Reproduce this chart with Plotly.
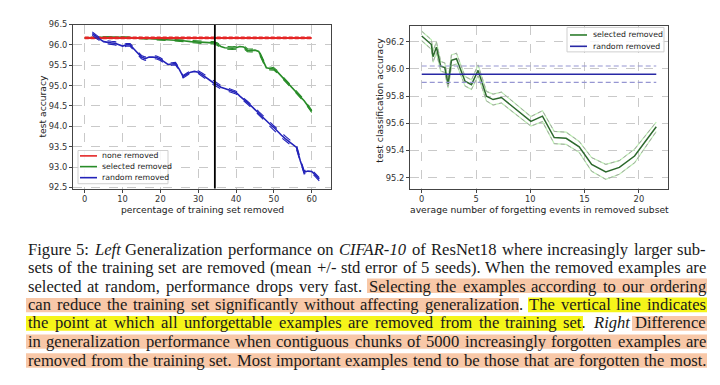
import plotly.graph_objects as go

# ---------------- data: left panel ----------------
none_x = [0, 2, 4, 6, 8, 10, 12, 14, 16, 18, 20, 22, 24, 26, 28, 30,
          32, 34, 36, 38, 40, 42, 44, 46, 48, 50, 52, 54, 56, 58, 60]
none_y = [96.17, 96.17, 96.17, 96.17, 96.17, 96.17, 96.17, 96.17, 96.17, 96.17,
          96.17, 96.17, 96.17, 96.17, 96.17, 96.17, 96.17, 96.17, 96.17, 96.17,
          96.17, 96.17, 96.17, 96.17, 96.17, 96.17, 96.17, 96.17, 96.17, 96.17, 96.17]
none_err = [0.012, 0.012, 0.012, 0.012, 0.012, 0.012, 0.012, 0.012, 0.012, 0.012,
            0.012, 0.012, 0.012, 0.012, 0.012, 0.012, 0.012, 0.012, 0.012, 0.012,
            0.012, 0.012, 0.012, 0.012, 0.012, 0.012, 0.012, 0.012, 0.012, 0.012, 0.012]

sel_x = [0, 2, 4, 6, 8, 10, 12, 14, 16, 18, 20, 22, 24, 26, 28, 30, 32, 34,
         35, 36, 37, 38, 39, 40, 41, 42, 43, 44, 45, 46, 47, 48, 49, 50,
         51, 52, 53, 54, 55, 56, 57, 58, 59, 60]
sel_y = [96.17, 96.18, 96.18, 96.19, 96.19, 96.19, 96.18, 96.17, 96.16, 96.15,
         96.14, 96.12, 96.11, 96.10, 96.08, 96.07, 96.06, 96.05,
         96.02, 95.96, 95.93, 95.92, 95.92, 95.93, 95.96, 95.95, 95.87, 95.86,
         95.87, 95.84, 95.62, 95.44, 95.42, 95.41, 95.33, 95.23, 95.13, 95.03,
         94.94, 94.84, 94.74, 94.63, 94.50, 94.37]
sel_err = [0.01, 0.01, 0.01, 0.01, 0.01, 0.01, 0.015, 0.015, 0.015, 0.02,
           0.02, 0.02, 0.02, 0.02, 0.025, 0.025, 0.025, 0.03,
           0.03, 0.035, 0.035, 0.035, 0.035, 0.035, 0.035, 0.035, 0.035, 0.035,
           0.035, 0.035, 0.04, 0.04, 0.035, 0.03, 0.03, 0.03, 0.03, 0.03,
           0.03, 0.03, 0.03, 0.03, 0.03, 0.03]

rnd_x = [2, 3, 4, 5, 6, 7, 8, 9, 10, 11, 12, 13, 14, 15, 16, 17, 18, 19, 20,
         21, 22, 23, 24, 25, 26, 27, 28, 29, 30, 31, 32, 33, 34, 35, 36, 37,
         38, 39, 40, 41, 42, 43, 44, 45, 46, 47, 48, 49, 50, 51, 52, 53, 54,
         55, 56, 57, 58, 59, 60, 61, 62]
rnd_y = [96.28, 96.20, 96.14, 96.08, 96.06, 96.05, 96.04, 96.00, 95.97, 96.00,
         96.00, 95.90, 95.80, 95.70, 95.66, 95.70, 95.70, 95.69, 95.65, 95.58,
         95.52, 95.53, 95.54, 95.40, 95.22, 95.28, 95.33, 95.35, 95.33, 95.27,
         95.20, 95.13, 95.07, 95.02, 94.96, 94.93, 94.90, 94.87, 94.83, 94.74,
         94.65, 94.58, 94.50, 94.42, 94.32, 94.23, 94.13, 94.05, 93.97, 93.87,
         93.78, 93.70, 93.63, 93.56, 93.48, 93.15, 92.87, 92.90, 92.89, 92.80,
         92.70]
rnd_err = [0.04, 0.04, 0.035, 0.035, 0.035, 0.04, 0.04, 0.04, 0.035, 0.035,
           0.035, 0.035, 0.035, 0.04, 0.04, 0.04, 0.035, 0.035, 0.035, 0.03,
           0.03, 0.03, 0.03, 0.03, 0.03, 0.03, 0.03, 0.03, 0.035, 0.04,
           0.045, 0.05, 0.05, 0.05, 0.045, 0.04, 0.04, 0.04, 0.035, 0.035,
           0.035, 0.035, 0.035, 0.04, 0.04, 0.04, 0.045, 0.05, 0.05, 0.055,
           0.06, 0.06, 0.06, 0.06, 0.05, 0.05, 0.04, 0.04, 0.04, 0.04,
           0.04]

vline_x = 34.4

# ---------------- data: right panel ----------------
fe_x = [0.0, 0.89, 1.04, 1.35, 1.75, 2.12, 2.43, 2.74, 3.2, 3.99, 4.58, 5.19,
        5.96, 6.57, 7.34, 10.05, 11.12, 12.2, 13.3, 14.5, 15.65, 16.95, 18.2,
        19.6, 21.6]
fe_y = [96.243, 96.18, 96.09, 96.16, 96.02, 96.01, 95.89, 96.064, 96.076,
        95.91, 95.885, 95.99, 95.80, 95.775, 95.79, 95.615, 95.653, 95.496,
        95.49, 95.427, 95.298, 95.243, 95.276, 95.36, 95.575]
fe_err = [0.035, 0.035, 0.04, 0.04, 0.035, 0.035, 0.03, 0.04, 0.04, 0.035,
          0.035, 0.04, 0.035, 0.04, 0.04, 0.035, 0.04, 0.045, 0.045, 0.04,
          0.05, 0.055, 0.05, 0.05, 0.035]
rand_level = 95.962
rand_err = 0.06
rand_x = [0.0, 21.6]

# ---------------- caption ----------------
caption_lines = [
    "Figure 5: <i>Left</i> Generalization performance on <i>CIFAR-10</i> of ResNet18 where increasingly larger sub-",
    "sets of the training set are removed (mean +/- std error of 5 seeds). When the removed examples are",
    "selected at random, performance drops very fast. Selecting the examples according to our ordering",
    "can reduce the training set significantly without affecting generalization. The vertical line indicates",
    "the point at which all unforgettable examples are removed from the training set. <i>Right</i> Difference",
    "in generalization performance when contiguous chunks of 5000 increasingly forgotten examples are",
    "removed from the training set. Most important examples tend to be those that are forgotten the most.",
]

W, H = 720, 385


def px(x):
    return x / W


def py(y):
    return 1 - y / H


# Times-compatible advance widths (per 1000 em) used to justify the caption
_REG = {" ": 250, "(": 333, ")": 333, "+": 564, ",": 250, "-": 333, ".": 250, "/": 278,
        ":": 278, ";": 278, "@": 921}
_REG.update({d: 500 for d in "0123456789"})
_REG.update(dict(zip("ABCDEFGHIJKLMNOPQRSTUVWXYZ",
                     [722, 667, 667, 722, 611, 556, 722, 722, 333, 389, 722, 611, 889,
                      722, 722, 556, 722, 667, 556, 611, 722, 722, 944, 722, 722, 611])))
_REG.update(dict(zip("abcdefghijklmnopqrstuvwxyz",
                     [444, 500, 444, 500, 444, 333, 500, 500, 278, 278, 500, 278, 778,
                      500, 500, 500, 500, 333, 389, 278, 500, 500, 722, 500, 500, 444])))
_ITA = dict(_REG)
_ITA.update({"L": 556, "A": 611, "F": 611, "R": 611, "C": 640, "I": 320,
             "f": 278, "a": 500, "r": 389, "-": 320})


def word_width(w):
    table = _ITA if "<i>" in w else _REG
    plain = w.replace("<i>", "").replace("</i>", "")
    return sum(table.get(c, 500) for c in plain) / 1000.0


RED = "rgb(228,38,38)"
GREEN = "rgb(40,140,40)"
BLUE = "rgb(35,35,185)"

fig = go.Figure()


def add_band(x, y, e, color, xa, ya, mean_w=1.6, dash_w=1.1, dash="dash"):
    up = [a + b for a, b in zip(y, e)]
    lo = [a - b for a, b in zip(y, e)]
    for yy in (up, lo):
        fig.add_trace(go.Scatter(x=x, y=yy, mode="lines", xaxis=xa, yaxis=ya,
                                 line=dict(color=color, width=dash_w, dash=dash),
                                 showlegend=False, hoverinfo="skip"))
    fig.add_trace(go.Scatter(x=x, y=y, mode="lines", xaxis=xa, yaxis=ya,
                             line=dict(color=color, width=mean_w),
                             showlegend=False))


# left panel
add_band(sel_x, sel_y, sel_err, GREEN, "x", "y")
add_band(none_x, none_y, none_err, RED, "x", "y", mean_w=2.0, dash_w=1.8, dash="4px,2px")
add_band(rnd_x, rnd_y, rnd_err, BLUE, "x", "y")
fig.add_trace(go.Scatter(x=[vline_x, vline_x], y=[92.0, 97.0], mode="lines",
                         line=dict(color="black", width=1.8), showlegend=False))

# right panel
fe_up = [a + b for a, b in zip(fe_y, fe_err)]
fe_lo = [a - b for a, b in zip(fe_y, fe_err)]
for yy in (fe_up, fe_lo):
    fig.add_trace(go.Scatter(x=fe_x, y=yy, mode="lines", xaxis="x2", yaxis="y2",
                             line=dict(color="rgb(190,240,180)", width=1.2),
                             showlegend=False, hoverinfo="skip"))
    fig.add_trace(go.Scatter(x=fe_x, y=yy, mode="lines", xaxis="x2", yaxis="y2",
                             line=dict(color="rgb(165,165,165)", width=1, dash="4px,3px"),
                             showlegend=False, hoverinfo="skip"))
fig.add_trace(go.Scatter(x=fe_x, y=fe_y, mode="lines", xaxis="x2", yaxis="y2",
                         line=dict(color="rgb(45,105,45)", width=1.5), showlegend=False))
for lvl in (rand_level + rand_err, rand_level - rand_err):
    fig.add_trace(go.Scatter(x=rand_x, y=[lvl, lvl], mode="lines", xaxis="x2", yaxis="y2",
                             line=dict(color="rgb(150,150,210)", width=1.2, dash="5px,3px"),
                             showlegend=False))
fig.add_trace(go.Scatter(x=rand_x, y=[rand_level, rand_level], mode="lines",
                         xaxis="x2", yaxis="y2",
                         line=dict(color="rgb(40,40,165)", width=1.5), showlegend=False))

tickfont = dict(family="DejaVu Sans", size=8.3, color="#333")
axis_common = dict(showline=True, mirror=True, linecolor="#444", linewidth=1,
                   ticks="outside", ticklen=3, tickcolor="#444", tickfont=tickfont,
                   showgrid=True, gridcolor="#c9c9c9", griddash="dash", gridwidth=0.8,
                   zeroline=False)

fig.update_layout(
    width=W, height=H, margin=dict(l=0, r=0, t=0, b=0),
    paper_bgcolor="white", plot_bgcolor="white", showlegend=False,
    xaxis=dict(domain=[px(73), px(331)], range=[-3.1, 65.1], tickvals=[0, 10, 20, 30, 40, 50, 60],
               anchor="y", ticklabelstandoff=-1, **axis_common),
    yaxis=dict(domain=[py(188), py(20)], range=[92.47, 96.5],
               tickvals=[92.5, 93.0, 93.5, 94.0, 94.5, 95.0, 95.5, 96.0, 96.5],
               tickformat=".1f", anchor="x", **axis_common),
    xaxis2=dict(domain=[px(410), px(668)], range=[-1.08, 22.68], tickvals=[0, 5, 10, 15, 20],
                anchor="y2", ticklabelstandoff=-1, **axis_common),
    yaxis2=dict(domain=[py(188), py(21)], range=[95.12, 96.32],
                tickvals=[95.2, 95.4, 95.6, 95.8, 96.0, 96.2], tickformat=".1f",
                anchor="x2", **axis_common),
)

shapes = []
annotations = []
title_font = dict(family="DejaVu Sans", size=9.2, color="#222")
for text, x, y, ang in [
        ("percentage of training set removed", 202, 209.5, 0),
        ("test accuracy", 43, 104, -90),
        ("average number of forgetting events in removed subset", 539, 209.5, 0),
        ("test classification accuracy", 380, 98, -90)]:
    annotations.append(dict(text=text, x=px(x), y=py(y), xref="paper", yref="paper",
                            xanchor="center", yanchor="middle", showarrow=False,
                            borderpad=0, textangle=ang, font=title_font))

# manual legends
leg_font = dict(family="DejaVu Sans", size=7.8, color="#222")


def legend_box(x0, y0, x1, y1, items, lx0, lx1, tx):
    shapes.append(dict(type="rect", xref="paper", yref="paper", x0=px(x0), x1=px(x1),
                       y0=py(y1), y1=py(y0), fillcolor="rgba(255,255,255,0.85)",
                       line=dict(color="#cfcfcf", width=1)))
    for label, color, yy in items:
        shapes.append(dict(type="line", xref="paper", yref="paper", x0=px(lx0), x1=px(lx1),
                           y0=py(yy), y1=py(yy), line=dict(color=color, width=1.6)))
        annotations.append(dict(text=label, x=px(tx), y=py(yy), xref="paper", yref="paper",
                                xanchor="left", yanchor="middle", showarrow=False,
                                borderpad=0, font=leg_font))


legend_box(78, 149, 168, 183,
           [("none removed", RED, 154.5), ("selected removed", GREEN, 165.5),
            ("random removed", BLUE, 176.8)], 80, 97, 101)
legend_box(567, 23, 664, 48,
           [("selected removed", "rgb(45,125,45)", 30.7), ("random removed", "rgb(40,40,165)", 42.3)],
           570, 587, 592)

# caption highlights
ORANGE = "rgb(248,200,168)"
YELLOW = "rgb(245,245,25)"
highlights = [
    (367, 707, 280, 295, ORANGE),
    (26, 519, 300, 314.5, ORANGE),
    (528, 707, 299.5, 314.5, YELLOW),
    (26, 583, 318.5, 333.5, YELLOW),
    (632, 707, 318.5, 333.5, ORANGE),
    (26, 707, 337.5, 352, ORANGE),
    (26, 707, 356.5, 371.5, ORANGE),
]
for x0, x1, y0, y1, c in highlights:
    shapes.append(dict(type="rect", xref="paper", yref="paper", x0=px(x0), x1=px(x1),
                       y0=py(y1), y1=py(y0), fillcolor=c, line=dict(width=0), layer="below"))

# justified caption: every word placed so that each line spans the text block
X_LEFT, X_RIGHT = 27.0, 705.0
line_y = [250.5, 269, 288, 306.8, 325.5, 344.5, 363.5]
words_per_line = [ln.split(" ") for ln in caption_lines]
natural = [sum(word_width(w) for w in ws) + 0.25 * (len(ws) - 1) for ws in words_per_line]
cap_size = min(16.6, min((X_RIGHT - X_LEFT) / n for n in natural))
cap_font = dict(family="Liberation Serif", size=cap_size, color="#1a1a1a")
for i, ws in enumerate(words_per_line):
    widths = [word_width(w) * cap_size for w in ws]
    gap = (X_RIGHT - X_LEFT - sum(widths)) / (len(ws) - 1)
    x = X_LEFT
    for w, wd in zip(ws, widths):
        annotations.append(dict(text=w, x=px(x), y=py(line_y[i]), xref="paper", yref="paper",
                                xanchor="left", yanchor="middle", showarrow=False,
                                borderpad=0, font=cap_font))
        x += wd + gap

fig.update_layout(shapes=shapes, annotations=annotations)
fig.write_html("out.html", config={"displayModeBar": False},
               post_script="document.body.style.margin='0px';document.body.style.padding='0px';")
